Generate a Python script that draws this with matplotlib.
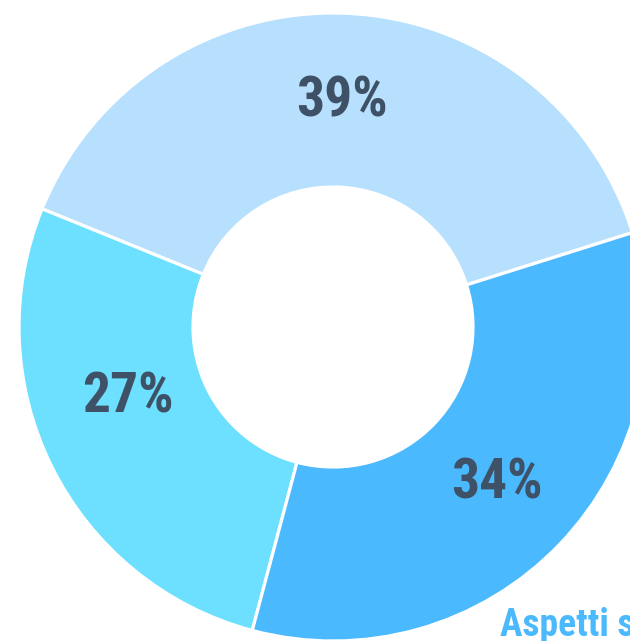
import numpy as np
import matplotlib.pyplot as plt

labels = ["39%", "27%", "34%"]
values = [39, 27, 34]
colors = ["#b6e0fe", "#6ce0fe", "#4bb9fe"]
title_text = "Aspetti s"

W, H = 630, 641
cx, cy, R = 333, 327, 314
FONT = ["Roboto Condensed", "DejaVu Sans"]

fig = plt.figure(figsize=(W / 100, H / 100), dpi=100)
ax = fig.add_axes([0, 0, 1, 1])

wedges, texts, autotexts = ax.pie(
    values, colors=colors, startangle=17.5, counterclock=True,
    radius=1.0, autopct="%d%%", pctdistance=0.72,
    wedgeprops=dict(width=1 - 140 / R, edgecolor="white", linewidth=2.3),
)
for t, lab in zip(autotexts, labels):
    t.set_text(lab)
    t.set_fontfamily(FONT)
    t.set_fontweight("bold")
    t.set_fontsize(40)
    t.set_color("#3f5166")

# the 27% label sits a bit higher than the wedge middle in the original
x27, y27 = autotexts[1].get_position()
autotexts[1].set_position((x27 - 3 / R, y27 + 30 / R))

ax.set_aspect("auto")
ax.set_xlim(-cx / R, (W - cx) / R)
ax.set_ylim(-(H - cy) / R, cy / R)
ax.axis("off")

fig.text(500 / W, 1 - 636 / H, title_text, ha="left", va="baseline",
         fontsize=27, fontweight="bold", color="#4bb9fe", family=FONT)

fig.savefig("out.png", dpi=100)
